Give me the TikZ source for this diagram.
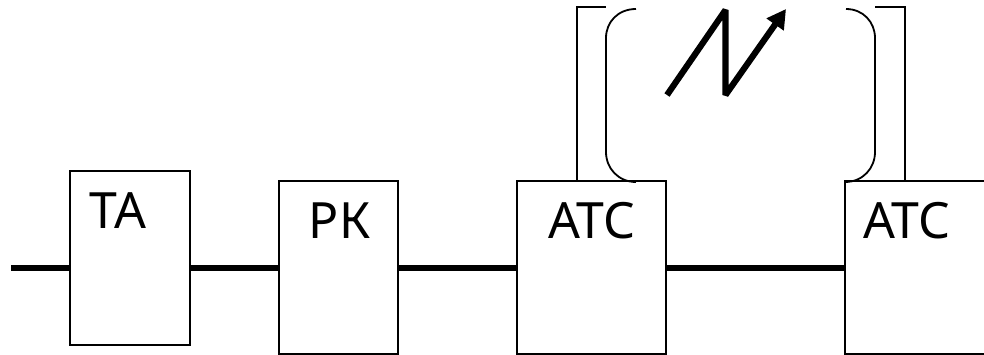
\documentclass[tikz,border=0pt]{standalone}
\usepackage{fontspec}
\setmainfont{Noto Sans}
\usetikzlibrary{arrows.meta}
\tikzset{
  unit/.style={draw=black,line width=1.8pt,fill=white,inner sep=0pt,minimum width=#1},
  lbl/.style={inner sep=0pt,font=\fontsize{50}{50}\selectfont,anchor=base},
  trunk/.style={line width=5.2pt},
  thin/.style={line width=1.8pt},
  zig/.style={line width=6.2pt,line join=bevel}
}
\begin{document}
\begin{tikzpicture}[x=1pt,y=-1pt]
\useasboundingbox (0,0) rectangle (984,355);
\clip (0,0) rectangle (984,355);
\coordinate (start) at (11,268);
\coordinate (bus) at (0,268);
% boxes
\node[unit=120pt,minimum height=174pt] (ta) at (130,258) {};
\node[unit=119pt,minimum height=173pt] (rk) at (338.5,267.5) {};
\node[unit=149pt,minimum height=173pt] (atc1) at (591.5,267.5) {};
\node[unit=160pt,minimum height=173pt] (atc2) at (925,267.5) {};
% labels
\node[lbl] (tatext) at (118,229) {ТА};
\node[lbl] (rktext) at (339.5,239) {РК};
\node[lbl] (atext) at (592,239) {АТС};
\node[lbl] (btext) at (907,239) {АТС};
% trunk
\draw[trunk] (start) -- (ta.west |- bus);
\draw[trunk] (ta.east |- bus) -- (rk.west |- bus);
\draw[trunk] (rk.east |- bus) -- (atc1.west |- bus);
\draw[trunk] (atc1.east |- bus) -- (atc2.west |- bus);
% square brackets
\coordinate (lb) at (606,7);
\coordinate (rb) at (875,7);
\draw[thin] (atc1.north west -| 577,0) -- (577,7) -- (lb);
\draw[thin] (atc2.north west -| 905,0) -- (905,7) -- (rb);
% rounded brackets
\coordinate (lc) at (636,9);
\coordinate (rc) at (846,9);
\draw[thin] (lc) .. controls (618,9) and (606,22) .. (606,38) -- (606,152) .. controls (606,168) and (618,182) .. (636,182);
\draw[thin] (rc) .. controls (863,9) and (875,22) .. (875,38) -- (875,152) .. controls (875,168) and (863,182) .. (845,182);
% zigzag
\coordinate (z0) at (667,95);
\coordinate (z1) at (725.5,10);
\coordinate (z2) at (725.5,95);
\coordinate (z3) at (786,9);
\draw[zig,-{Triangle[length=19pt,width=20pt]}] (z0) -- (z1) -- (z2) -- (z3);
\end{tikzpicture}
\end{document}
